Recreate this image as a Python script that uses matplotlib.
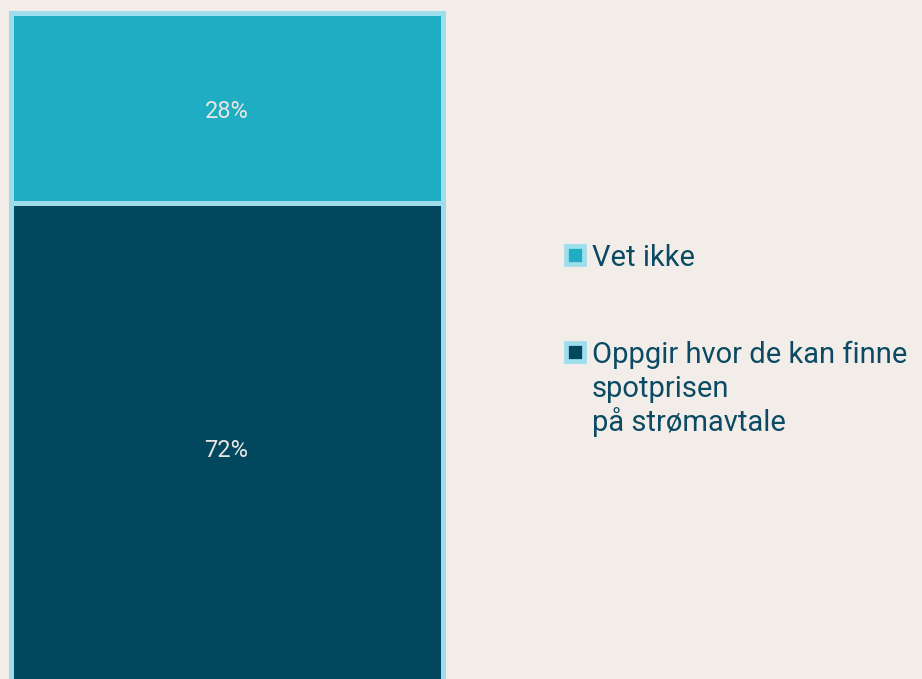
import matplotlib.pyplot as plt
from matplotlib.patches import Rectangle

categories = ["Oppgir hvor de kan finne\nspotprisen\npå strømavtale", "Vet ikke"]
values = [72, 28]
colors = ["#03485F", "#1EADC2"]
edge = "#9EDDEB"
bg = "#F2EDE9"
text_color = "#0B4A62"

plt.rcParams['font.family'] = ['Roboto', 'DejaVu Sans']

W, H = 922.0, 679.0
fig = plt.figure(figsize=(9.22, 6.79), dpi=100, facecolor=bg)
ax = fig.add_axes([0, 0, 1, 1])
ax.set_facecolor(bg)

# bar spans pixels 10.5..442.5 horizontally, 100% -> 679 px tall starting at y=13.5
ax.set_xlim(-10.5 / 432, (W - 10.5) / 432)
ppu = 679 / 100.0
ax.set_ylim((692 - 679) / ppu, 100 + 13.5 / ppu)

bottom = 0
for cat, v, c in zip(categories, values, colors):
    ax.bar(0.5, v, width=1.0, bottom=bottom, color=c, edgecolor=edge,
           linewidth=3.6, label=cat)
    ax.text(0.5, bottom + v / 2 - 0.4, f"{v}%", ha="center", va="center",
            color="#E9E6E2", fontsize=17)
    bottom += v

# legend drawn by hand so the marker sits next to the first line
def px(x, y):
    return x / W, 1 - y / H

legend_rows = [266, 363]  # baseline of first line, pixels
line_step = 34
for cat, c, y0 in zip(categories[::-1], colors[::-1], legend_rows):
    x, y = px(564 + 2.3, y0 - 11 + 8.7)
    ax.add_patch(Rectangle((x, y), 17.4 / W, 17.4 / H, transform=ax.transAxes,
                           facecolor=c, edgecolor=edge, linewidth=3.4,
                           clip_on=False))
    for i, line in enumerate(cat.split("\n")):
        tx, ty = px(592, y0 + i * line_step)
        ax.text(tx, ty, line, transform=ax.transAxes, ha="left",
                va="baseline", fontsize=21, color=text_color)

ax.axis("off")
fig.savefig("out.png", dpi=100, facecolor=bg)
